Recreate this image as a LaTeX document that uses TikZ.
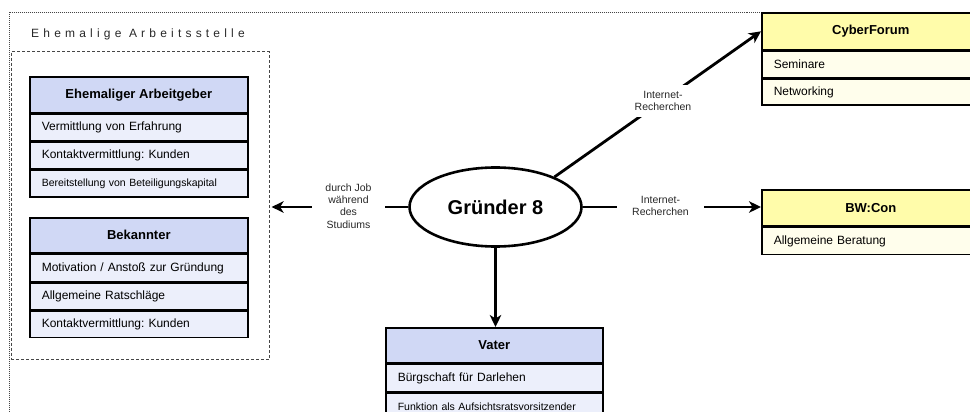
\documentclass[tikz,border=0pt]{standalone}
\usepackage{fontspec}
\setmainfont{Liberation Sans}
\frenchspacing
\usetikzlibrary{shapes.geometric,arrows.meta}
\definecolor{hdrblue}{RGB}{208,216,245}
\definecolor{rowblue}{RGB}{236,239,251}
\definecolor{hdryel}{RGB}{255,252,170}
\definecolor{rowyel}{RGB}{255,254,236}
\definecolor{lblcol}{RGB}{40,40,40}
\definecolor{framecol}{RGB}{70,70,70}
\begin{document}
\begin{tikzpicture}[x=1pt,y=-1pt,
  box/.style={draw=black, line width=1.6pt, minimum width=218pt, anchor=north west, inner sep=0pt},
  hdr/.style={box, minimum height=36pt, font=\fontsize{13}{15}\selectfont\bfseries},
  rowbox/.style={box, minimum height=26.5pt, text width=194pt, inner xsep=12pt, align=left, font=\fontsize{12}{14}\selectfont},
  smallrow/.style={rowbox, font=\fontsize{10.5}{12}\selectfont},
  blueh/.style={hdr, fill=hdrblue},
  bluer/.style={rowbox, fill=rowblue},
  bluers/.style={smallrow, fill=rowblue},
  yelh/.style={hdr, fill=hdryel},
  yelr/.style={rowbox, fill=rowyel},
  conn/.style={line width=2.8pt, -{Stealth[length=12pt, width=11.5pt, inset=3.5pt]}},
  lab/.style={fill=white, text=lblcol, align=center, inner xsep=14pt, inner ysep=6pt, font=\fontsize{10.5}{12.3}\selectfont},
  outerframe/.style={draw=framecol, line width=1.1pt, dash pattern=on 1pt off 1pt},
  innerframe/.style={draw=framecol, line width=1.1pt, dash pattern=on 3pt off 2pt}
]
\useasboundingbox (0,0) rectangle (970,412);
\clip (0,0) rectangle (970,412);

% frames
\draw[outerframe] (9.5,12.5) rectangle (1000,440);
\node[innerframe, minimum width=258pt, minimum height=308pt, anchor=north west, inner sep=0pt] (frame) at (10.5,51) {};
\node[anchor=west, text=lblcol, inner sep=0pt, font=\fontsize{12}{14}\selectfont\addfontfeature{LetterSpace=35}] (title) at (31,34) {Ehemalige Arbeitsstelle};

% Ehemaliger Arbeitgeber
\node[blueh] (ea) at (29,76) {Ehemaliger Arbeitgeber};
\node[bluer] (ea1) at (ea.south west) {Vermittlung von Erfahrung};
\node[bluer] (ea2) at (ea1.south west) {Kontaktvermittlung: Kunden};
\node[bluers] (ea3) at (ea2.south west) {Bereitstellung von Beteiligungskapital};

% Bekannter
\node[blueh, minimum height=35pt] (bk) at (29,217) {Bekannter};
\node[bluer, minimum height=27pt] (bk1) at (bk.south west) {Motivation / Anstoß zur Gründung};
\node[bluer, minimum height=27pt] (bk2) at (bk1.south west) {Allgemeine Ratschläge};
\node[bluer, minimum height=26pt] (bk3) at (bk2.south west) {Kontaktvermittlung: Kunden};

% Vater
\node[blueh, minimum width=217pt, minimum height=35pt] (va) at (385,327) {Vater};
\node[bluer, minimum width=217pt, text width=193pt, minimum height=27pt] (va1) at (va.south west) {Bürgschaft für Darlehen};
\node[bluers, minimum width=217pt, text width=193pt, minimum height=27pt] (va2) at (va1.south west) {Funktion als Aufsichtsratsvorsitzender};

% CyberForum
\node[yelh, minimum height=37pt] (cf) at (761,12) {CyberForum};
\node[yelr, minimum height=26pt] (cf1) at (cf.south west) {Seminare};
\node[yelr, minimum height=26pt] (cf2) at (cf1.south west) {Networking};

% BW:Con
\node[yelh] (bw) at (761,189) {BW:Con};
\node[yelr, minimum height=27pt] (bw1) at (bw.south west) {Allgemeine Beratung};

% Gruender
\node[ellipse, draw=black, fill=white, line width=2.6pt, minimum width=172pt, minimum height=79pt, inner sep=0pt, font=\fontsize{20}{24}\selectfont\bfseries] (g) at (495.5,207) {Gründer 8};

% connectors
\draw[conn] (g.west) -- ([xshift=2pt]frame.east |- g.west);
\draw[conn] (g.east) -- (g.east -| bw.west);
\draw[conn] (g.27) -- (cf.west);
\draw[conn] (g.south) -- (g.south |- va.north);

% labels
\node[lab, inner xsep=13pt] (l1) at (348.5,206) {durch Job\\während\\des\\Studiums};
\node[lab, inner xsep=15pt] (l2) at (660.5,206) {Internet-\\Recherchen};
\node[lab, inner ysep=6.5pt] (l3) at (663,101) {Internet-\\Recherchen};
\end{tikzpicture}
\end{document}
